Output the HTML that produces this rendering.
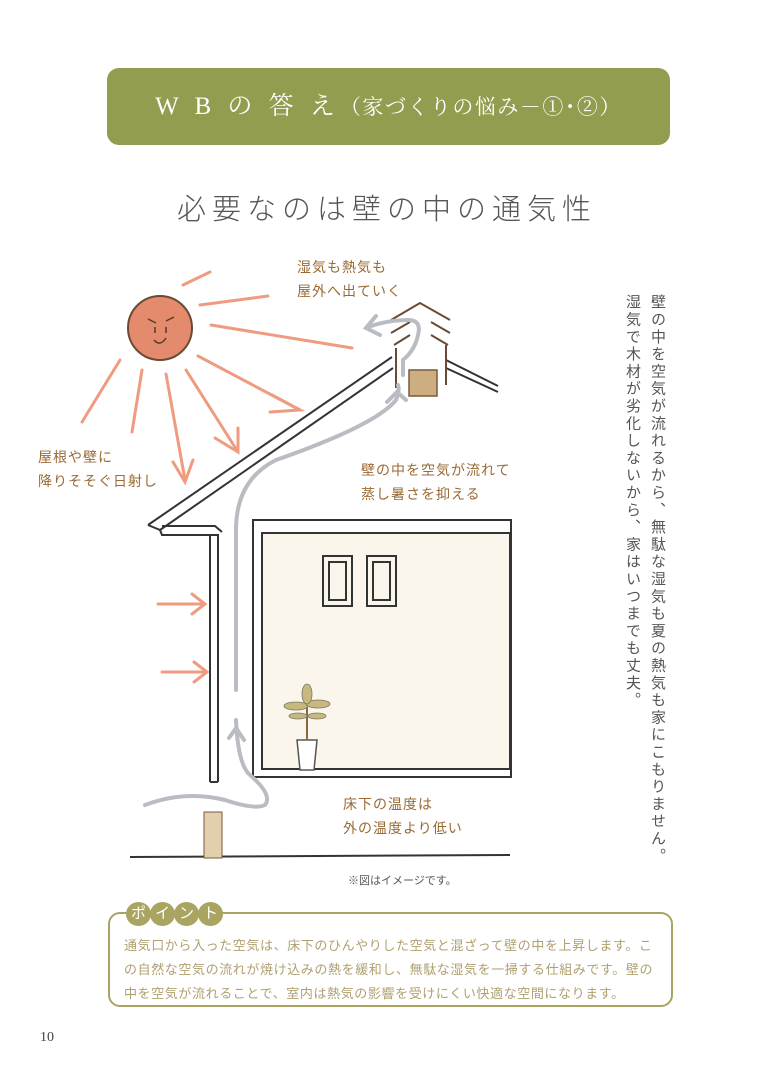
<!DOCTYPE html>
<html><head><meta charset="utf-8"><style>
body{margin:0;width:768px;height:1084px;background:#fff;position:relative;overflow:hidden;font-family:"Liberation Sans","Noto Sans CJK JP",sans-serif}
.a{position:absolute}
.lbl{position:absolute;color:#9a6a34;font-size:14px;line-height:24px;letter-spacing:1px}
</style></head><body>
<div class="a" style="left:107px;top:68px;width:563px;height:77px;background:#949c4f;border-radius:12px"></div>
<div class="a" style="left:107px;top:68px;width:563px;height:77px;line-height:77px;text-align:center;color:#fff;font-family:'Liberation Serif','Noto Serif CJK SC',serif;font-size:25px;letter-spacing:5px">W B の 答 え<span style="font-size:21px;letter-spacing:1.5px">（家づくりの悩み－①･②）</span></div>
<div class="a" style="left:0;width:768px;top:186px;text-align:center;color:#555;font-size:29px;letter-spacing:6px;font-weight:300;padding-left:6px;box-sizing:border-box">必要なのは壁の中の通気性</div>

<svg class="a" style="left:0;top:0" width="768" height="1084">
<g stroke="#ef9b80" stroke-width="3" fill="none" stroke-linecap="round">
<line x1="183" y1="285" x2="210" y2="272"/>
<line x1="200" y1="305" x2="268" y2="296"/>
<line x1="211" y1="325" x2="352" y2="348"/>
<line x1="198" y1="356" x2="300" y2="410"/>
<line x1="186" y1="370" x2="238" y2="452"/>
<line x1="166" y1="374" x2="185" y2="480"/>
<line x1="142" y1="370" x2="132" y2="432"/>
<line x1="120" y1="360" x2="82" y2="422"/>
<polyline points="272,395 300,410 270,412"/>
<polyline points="238,428 238,452 215,438"/>
<polyline points="173,462 185,482 193,460"/>
</g>
<circle cx="160" cy="328" r="32" fill="#e38b6c" stroke="#6a4a34" stroke-width="2"/>
<g stroke="#5a3a2a" stroke-width="1.5" fill="none"><path d="M148 319 l8 4 M174 317 l-8 4 M155 327 v6 M166 327 v6 M154 340 q6 7 12 -2"/></g>
<rect x="262" y="533" width="248" height="236" fill="#fbf6ec"/>
<g stroke="#333" stroke-width="2" fill="none">
<polyline points="148,525 392,357"/>
<polyline points="160,530 393,368"/>
<polyline points="446,360 498,386"/>
<polyline points="446,368 498,392"/>
<polyline points="148,525 160,530 162,535 218,535 218,782"/>
<polyline points="162,526 215,526 222,532"/>
<line x1="210" y1="535" x2="210" y2="782"/>
<line x1="210" y1="782" x2="218" y2="782"/>
<rect x="253" y="520" width="258" height="257"/>
<rect x="262" y="533" width="248" height="236"/>
<rect x="323" y="556" width="29" height="50"/><rect x="329" y="562" width="17" height="38"/>
<rect x="367" y="556" width="29" height="50"/><rect x="373" y="562" width="17" height="38"/>
<line x1="130" y1="857" x2="510" y2="855"/>
</g>
<g stroke="#6a4a34" stroke-width="2" fill="none">
<polyline points="391,320 420,303 450,320"/>
<polyline points="391,333 410,322"/><polyline points="431,322 450,333"/>
<polyline points="394,345 410,335"/><polyline points="431,335 448,345"/>
<line x1="396" y1="348" x2="396" y2="388"/><line x1="446" y1="345" x2="446" y2="385"/>
</g>
<rect x="409" y="370" width="28" height="26" fill="#cdae80" stroke="#7a5a3a" stroke-width="1.5"/>
<rect x="204" y="812" width="18" height="46" fill="#e3cfae" stroke="#7a5a3a" stroke-width="1"/>
<path d="M297 740 h20 l-3 30 h-14 z" fill="#fff" stroke="#555" stroke-width="1.5"/>
<line x1="307" y1="740" x2="307" y2="705" stroke="#8a6a3a" stroke-width="2"/>
<g fill="#c8b880" stroke="#776" stroke-width="0.8"><ellipse cx="296" cy="706" rx="12" ry="4"/><ellipse cx="318" cy="704" rx="12" ry="4"/><ellipse cx="307" cy="694" rx="5" ry="10"/><ellipse cx="298" cy="716" rx="9" ry="3"/><ellipse cx="317" cy="716" rx="9" ry="3"/></g>
<g stroke="#ef9b80" stroke-width="3" fill="none" stroke-linecap="round">
<line x1="158" y1="604" x2="205" y2="604"/><polyline points="192,594 205,604 192,614"/>
<line x1="162" y1="672" x2="207" y2="672"/><polyline points="194,662 207,672 194,682"/>
</g>
<g stroke="#b9bcc2" stroke-width="4" fill="none" stroke-linecap="round">
<path d="M145 805 q40 -15 80 -5 q30 10 40 5 q8 -10 -15 -30 q-12 -10 -14 -55"/>
<polyline points="229,738 236,728 244,740"/>
<path d="M236 690 v-160 q0 -50 40 -70 q100 -35 120 -60 q4 -10 2 -15"/>
<polyline points="387,402 397,392 406,400"/>
<path d="M403 375 v-15 q12 -10 15 -25 q4 -15 -10 -15 q-20 0 -40 7"/>
<polyline points="376,316 366,328 380,335"/>
</g>
</svg>

<div class="lbl" style="left:297px;top:255px">湿気も熱気も<br>屋外へ出ていく</div>
<div class="lbl" style="left:38px;top:445px">屋根や壁に<br>降りそそぐ日射し</div>
<div class="lbl" style="left:361px;top:458px">壁の中を空気が流れて<br>蒸し暑さを抑える</div>
<div class="lbl" style="left:343px;top:792px">床下の温度は<br>外の温度より低い</div>
<div class="a" style="left:348px;top:872px;font-size:11px;color:#555">※図はイメージです。</div>

<div class="a" style="left:620px;top:294px;writing-mode:vertical-rl;font-size:15px;line-height:25px;letter-spacing:2.3px;color:#555">壁の中を空気が流れるから、無駄な湿気も夏の熱気も家にこもりません。<br>湿気で木材が劣化しないから、家はいつまでも丈夫。</div>

<div class="a" style="left:108px;top:912px;width:561px;height:91px;border:2px solid #a9a561;border-radius:12px"></div>
<div class="a" style="left:126px;top:902px;height:24px;display:flex">
<span style="display:inline-block;width:25px;height:24px;border-radius:50%;background:#a9a561;color:#fff;text-align:center;line-height:24px;font-size:15px;margin-right:-1px">ポ</span><span style="display:inline-block;width:25px;height:24px;border-radius:50%;background:#a9a561;color:#fff;text-align:center;line-height:24px;font-size:15px;margin-right:-1px">イ</span><span style="display:inline-block;width:25px;height:24px;border-radius:50%;background:#a9a561;color:#fff;text-align:center;line-height:24px;font-size:15px;margin-right:-1px">ン</span><span style="display:inline-block;width:25px;height:24px;border-radius:50%;background:#a9a561;color:#fff;text-align:center;line-height:24px;font-size:15px">ト</span></div>
<div class="a" style="left:124px;top:934px;width:540px;font-size:13px;line-height:24px;color:#b0a070;letter-spacing:0.6px">通気口から入った空気は、床下のひんやりした空気と混ざって壁の中を上昇します。この自然な空気の流れが焼け込みの熱を緩和し、無駄な湿気を一掃する仕組みです。壁の中を空気が流れることで、室内は熱気の影響を受けにくい快適な空間になります。</div>
<div class="a" style="left:40px;top:1030px;font-family:'Liberation Serif',serif;font-size:14px;color:#444">10</div>
</body></html>
